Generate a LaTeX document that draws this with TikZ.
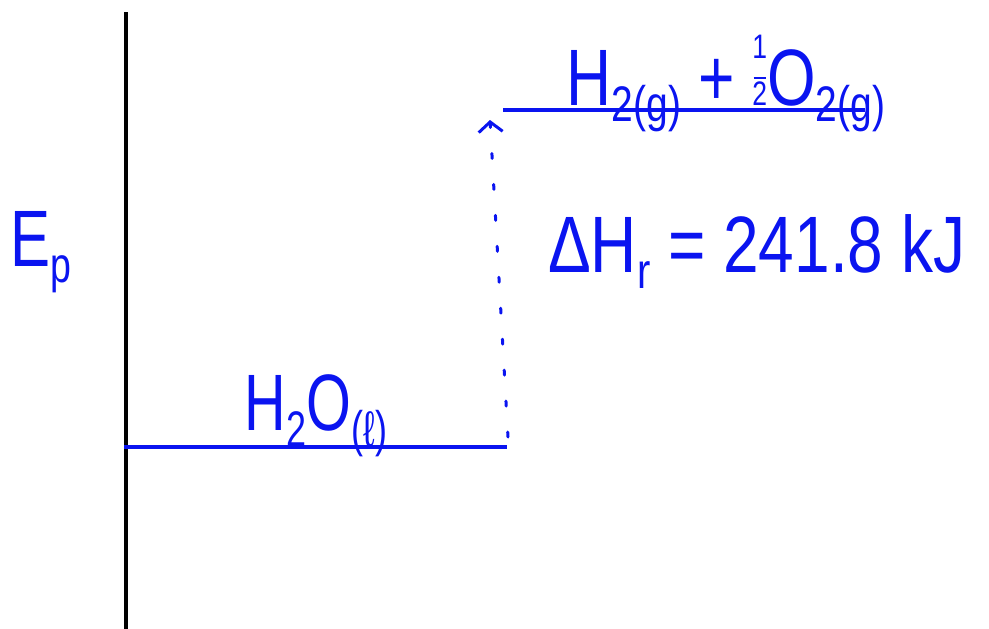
\documentclass[tikz,border=0pt]{standalone}
\usepackage{fontspec}
\setmainfont{Liberation Sans}
\usetikzlibrary{arrows.meta}
\definecolor{ink}{RGB}{10,20,240}
\newcommand\sbx[1]{\raisebox{-0.2em}{\fontsize{50}{50}\selectfont #1}}
\newcommand\hw[2]{\scalebox{#1}[1]{#2}}
\newcommand\halffrac{{\fontsize{34}{34}\selectfont\renewcommand\arraystretch{0.7}\begin{tabular}[b]{@{}c@{}}1\\[-3pt]\rule{16pt}{2.5pt}\\[-5pt]2\end{tabular}}}
\begin{document}
\begin{tikzpicture}[x=1pt,y=-1pt,
  level/.style={draw=ink,line width=4pt},
  lbl/.style={text=ink,inner sep=0pt,font=\fontsize{80}{80}\selectfont},
  axisline/.style={draw=black,line width=4.5pt}]
\useasboundingbox (0,0) rectangle (989,629);
% axis
\coordinate (axtop) at (126,12);
\coordinate (axbot) at (126,629);
\draw[axisline] (axtop) -- (axbot);
% levels
\coordinate (lowL) at (124,447);
\coordinate (lowR) at (507,447);
\coordinate (upL) at (503,110);
\coordinate (upR) at (865,110);
\draw[level] (lowL) -- (lowR);
\draw[level] (upL) -- (upR);
% dotted arrow
\coordinate (arrS) at (508,437);
\coordinate (arrE) at (490,120);
\draw[draw=ink,line width=3pt,line cap=round,dash pattern=on 5pt off 26pt,
  -{Straight Barb[length=10pt,width=24pt,line width=3pt]}] (arrS) -- (arrE);
% labels
\node[lbl,anchor=base] (react) at (316,430) {\hw{0.72}{H\sbx{2}O\sbx{(ℓ)}}};
\node[lbl,anchor=base] (prod) at (726,105) {\hw{0.78}{H\sbx{2(g)} + \halffrac O\sbx{2(g)}}};
\node[lbl,anchor=base west] (dh) at (548,272) {\hw{0.8}{ΔH\sbx{r} = 241.8 kJ}};
\node[lbl,anchor=base west] (ep) at (10,266) {\hw{0.75}{E\sbx{p}}};
\end{tikzpicture}
\end{document}
